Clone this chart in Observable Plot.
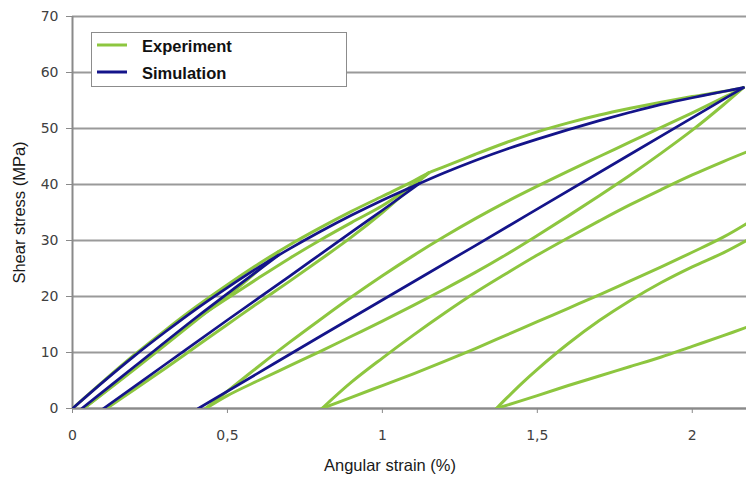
<!DOCTYPE html>
<html>
<head>
<meta charset="utf-8">
<script src="https://cdn.jsdelivr.net/npm/d3@7"></script>
<script src="https://cdn.jsdelivr.net/npm/@observablehq/plot@0.6"></script>
<style>
  html, body { margin: 0; padding: 0; background: #fff; }
  #wrap { position: relative; width: 746px; height: 481px; overflow: hidden; }
  #legend { position: absolute; left: 91px; top: 32px; width: 256px; height: 55px; box-sizing: border-box;
            border: 1px solid #8c8c8c; background: #fff; }
  #legend svg { display: block; }
  #legend text { font-family: "Liberation Sans", Arial, sans-serif; font-weight: bold; font-size: 16.5px; fill: #111; }
</style>
</head>
<body>
<div id="wrap">
  <div id="chart"></div>
  <div id="legend"></div>
</div>
<script>
// ---- tick values ----
const xTicks = [0, 0.5, 1, 1.5, 2];
const yTicks = [0, 10, 20, 30, 40, 50, 60, 70];

// ---- series names / colours ----
const seriesNames = ["Experiment", "Simulation"];
const seriesColors = ["#8dc63f", "#14148a"];

// ---- Experiment curves: [angular strain %, shear stress MPa] ----
const expEnvelope = [[0,0],[0.1,4.9],[0.2,9.6],[0.3,14.0],[0.4,18.2],[0.5,22.1],[0.6,25.8],[0.7,29.2],[0.8,32.3],[0.9,35.2],[1.0,37.9],[1.1,40.6],[1.15,42.1],[1.2,43.2],[1.3,45.4],[1.4,47.5],[1.5,49.4],[1.6,51.0],[1.7,52.4],[1.8,53.6],[1.9,54.7],[2.0,55.7],[2.1,56.6],[2.165,57.3]];
const expLoop0 = [[0.036,0],[0.2,7.0],[0.4,15.8],[0.55,22.3],[0.665,28.0]];
const expLoop1a = [[0.036,0],[0.1,2.8],[0.2,7.2],[0.3,11.8],[0.4,16.0],[0.5,19.7],[0.6,23.3],[0.7,26.8],[0.8,30.1],[0.9,33.2],[1.0,36.2],[1.06,38.4],[1.1,40.0],[1.15,42.1]];
const expLoop1b = [[0.11,0],[0.2,3.4],[0.3,7.2],[0.4,11.1],[0.5,15.0],[0.6,18.9],[0.7,22.7],[0.8,26.6],[0.9,30.6],[1.0,35.0],[1.06,37.9],[1.1,39.8],[1.15,42.1]];
const expLoop2a = [[0.43,0],[0.5,3.1],[0.6,7.5],[0.7,11.8],[0.8,15.9],[0.9,19.9],[1.0,23.7],[1.1,27.3],[1.2,30.7],[1.3,33.9],[1.4,36.9],[1.5,39.7],[1.6,42.4],[1.7,45.0],[1.8,47.6],[1.9,50.2],[2.0,52.8],[2.1,55.5],[2.165,57.3]];
const expLoop2b = [[0.43,0],[0.5,2.3],[0.6,5.0],[0.7,7.6],[0.8,10.2],[0.9,12.9],[1.0,15.6],[1.1,18.4],[1.2,21.3],[1.3,24.3],[1.4,27.5],[1.5,30.9],[1.6,34.4],[1.7,38.0],[1.8,41.7],[1.9,45.6],[2.0,49.7],[2.1,54.2],[2.165,57.3]];
const expLoop3a = [[0.805,0],[0.9,4.7],[1.0,9.0],[1.1,13.1],[1.2,17.0],[1.3,20.7],[1.4,24.1],[1.5,27.4],[1.6,30.5],[1.7,33.5],[1.8,36.4],[1.9,39.1],[2.0,41.7],[2.1,44.1],[2.175,45.8]];
const expLoop3b = [[0.805,0],[0.9,2.0],[1.0,4.1],[1.1,6.2],[1.2,8.4],[1.3,10.7],[1.4,13.1],[1.5,15.5],[1.6,17.9],[1.7,20.3],[1.8,22.8],[1.9,25.3],[2.0,27.9],[2.1,30.6],[2.175,33.0]];
const expLoop4a = [[1.368,0],[1.4,1.8],[1.45,4.5],[1.5,7.0],[1.6,11.6],[1.7,15.7],[1.8,19.3],[1.9,22.5],[2.0,25.3],[2.1,27.8],[2.175,30.0]];
const expLoop4b = [[1.368,0],[1.5,2.3],[1.6,4.1],[1.7,5.8],[1.8,7.5],[1.9,9.2],[2.0,11.1],[2.1,13.0],[2.175,14.5]];

// ---- Simulation curves ----
const simEnvelope = [[0,0],[0.1,4.8],[0.2,9.4],[0.3,13.7],[0.4,17.8],[0.5,21.6],[0.6,25.2],[0.7,28.5],[0.8,31.6],[0.9,34.5],[1.0,37.2],[1.1,39.7],[1.2,42.1],[1.3,44.3],[1.4,46.3],[1.5,48.1],[1.6,49.8],[1.7,51.4],[1.8,52.9],[1.9,54.3],[2.0,55.5],[2.1,56.6],[2.165,57.3]];
const simLoop0 = [[0.03,0],[0.2,7.5],[0.4,16.3],[0.55,22.6],[0.665,27.4]];
const simLoop1 = [[0.1,0],[0.3,7.9],[0.5,15.8],[0.7,23.6],[0.9,31.5],[1.0,35.4],[1.12,40.2]];
const simLoop2 = [[0.406,0],[0.8,12.9],[1.3,29.1],[1.8,45.4],[2.165,57.3]];

const expCurves = {expEnvelope, expLoop0, expLoop1a, expLoop1b, expLoop2a, expLoop2b, expLoop3a, expLoop3b, expLoop4a, expLoop4b};
const simCurves = {simEnvelope, simLoop0, simLoop1, simLoop2};

function toRows(curves) {
  const rows = [];
  for (const [name, pts] of Object.entries(curves)) {
    for (const [x, y] of pts) rows.push({curve: name, x, y});
  }
  return rows;
}
const expRows = toRows(expCurves);
const simRows = toRows(simCurves);

const commaFmt = d => String(d).replace(".", ",");
const titleFont = "'Liberation Sans', Arial, sans-serif";

const chart = Plot.plot({
  width: 746,
  height: 481,
  marginLeft: 72,
  marginRight: 0,
  marginTop: 16,
  marginBottom: 73,
  x: {domain: [0, 2.175], label: null},
  y: {domain: [0, 70], label: null},
  style: {fontFamily: "'DejaVu Sans', sans-serif", fontSize: "14px", background: "#fff", overflow: "visible"},
  marks: [
    Plot.gridY(yTicks, {stroke: "#9a9a9a", strokeWidth: 2, strokeOpacity: 1}),
    Plot.ruleX([0], {stroke: "#8a8a8a", strokeWidth: 2}),
    Plot.ruleY([0], {stroke: "#8a8a8a", strokeWidth: 2}),
    Plot.axisY(yTicks, {tickSize: 6, tickPadding: 8, stroke: "#8a8a8a", fill: "#404040", label: null, fontSize: 14}),
    Plot.axisX(xTicks, {tickSize: 5, tickPadding: 17, stroke: "#8a8a8a", fill: "#404040", tickFormat: commaFmt, label: null, fontSize: 14}),
    Plot.line(expRows, {x: "x", y: "y", z: "curve", stroke: seriesColors[0], strokeWidth: 3, curve: "catmull-rom", clip: true}),
    Plot.line(simRows, {x: "x", y: "y", z: "curve", stroke: seriesColors[1], strokeWidth: 2.7, curve: "catmull-rom", clip: true}),
    Plot.text(["Angular strain (%)"], {frameAnchor: "bottom", dx: -19.5, dy: 62, textAnchor: "middle", fontFamily: titleFont, fontSize: 16.5, fill: "#1a1a1a"}),
    Plot.text(["Shear stress (MPa)"], {frameAnchor: "left", dx: -53, rotate: -90, textAnchor: "middle", fontFamily: titleFont, fontSize: 16.5, fill: "#1a1a1a"})
  ]
});
document.getElementById("chart").appendChild(chart);

// ---- legend ----
const lg = d3.select("#legend").append("svg").attr("width", 254).attr("height", 53);
seriesNames.forEach((name, i) => {
  const yLine = 12 + i * 27;
  lg.append("line").attr("x1", 5).attr("x2", 35).attr("y1", yLine).attr("y2", yLine)
    .attr("stroke", seriesColors[i]).attr("stroke-width", 3);
  lg.append("text").attr("x", 50).attr("y", 19 + i * 26.5).text(name);
});
</script>
</body>
</html>
